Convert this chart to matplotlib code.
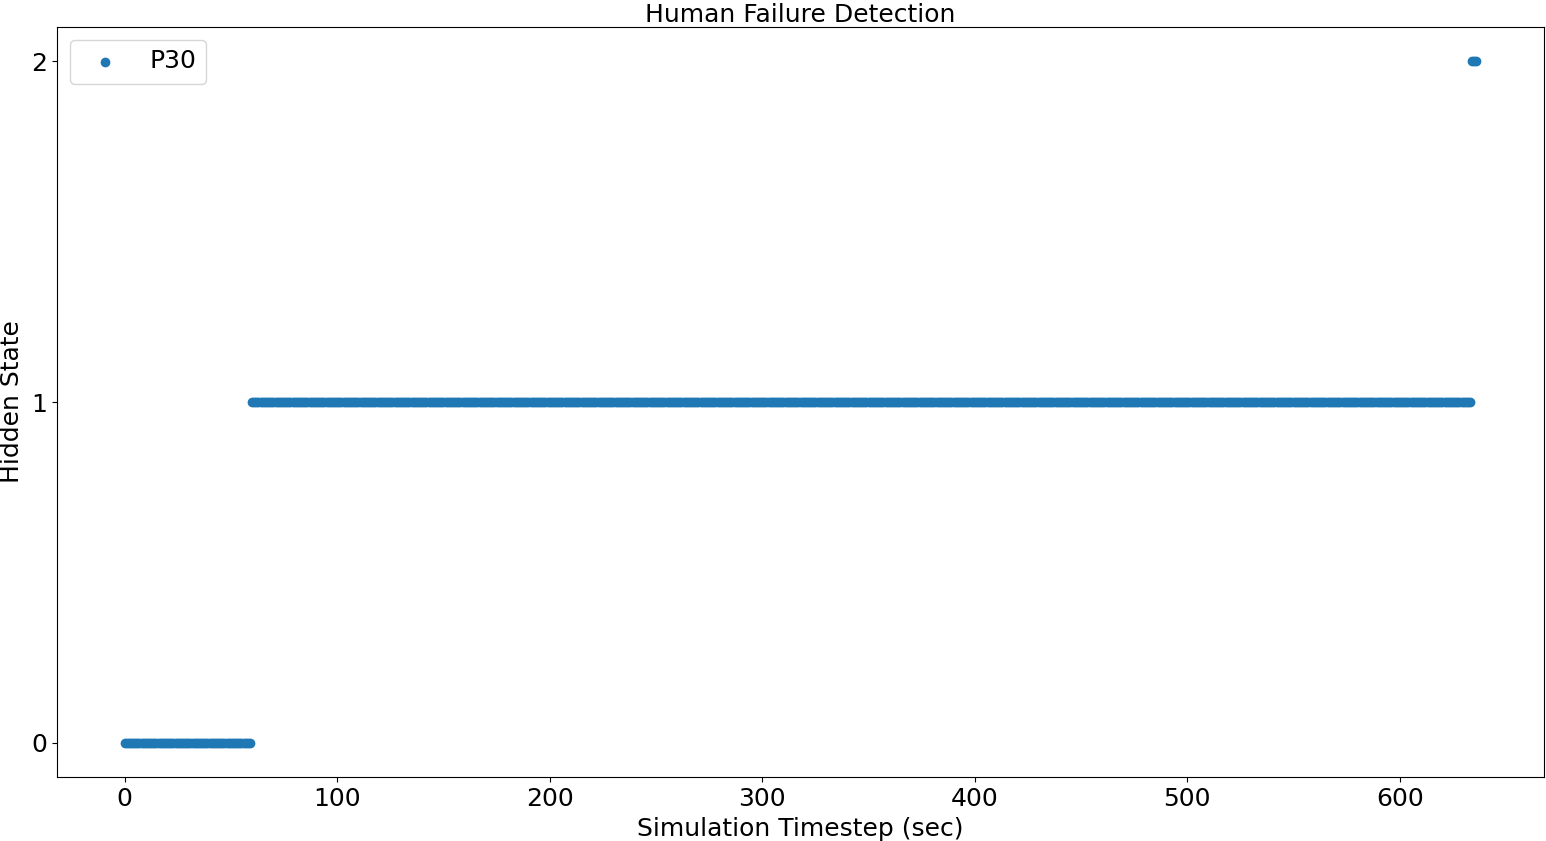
import numpy as np
import matplotlib
matplotlib.use("Agg")
import matplotlib.pyplot as plt

# Data: timestep ranges and hidden state per range
segment_starts = [0, 60, 634]
segment_ends = [59, 633, 636]
segment_states = [0, 1, 2]

timesteps = []
states = []
for s, e, st in zip(segment_starts, segment_ends, segment_states):
    for t in range(s, e + 1):
        timesteps.append(t)
        states.append(st)

series_label = "P30"
title = "Human Failure Detection"
xlabel = "Simulation Timestep (sec)"
ylabel = "Hidden State"
yticks = [0, 1, 2]

plt.rcParams['font.size'] = 18
fig = plt.figure(figsize=(15.46, 8.41), dpi=100)
ax = fig.add_axes([57/1546, (841-777)/841, (1544-57)/1546, (777-27)/841])
ax.scatter(timesteps, states, label=series_label, color="#1f77b4")
ax.set_yticks(yticks)
ax.set_title(title, fontsize=18, pad=0)
ax.set_xlabel(xlabel, fontsize=18, labelpad=4.5)
ax.set_ylabel(ylabel, fontsize=18, labelpad=5)
ax.legend(loc="upper left")
fig.savefig("out.png", dpi=100)
